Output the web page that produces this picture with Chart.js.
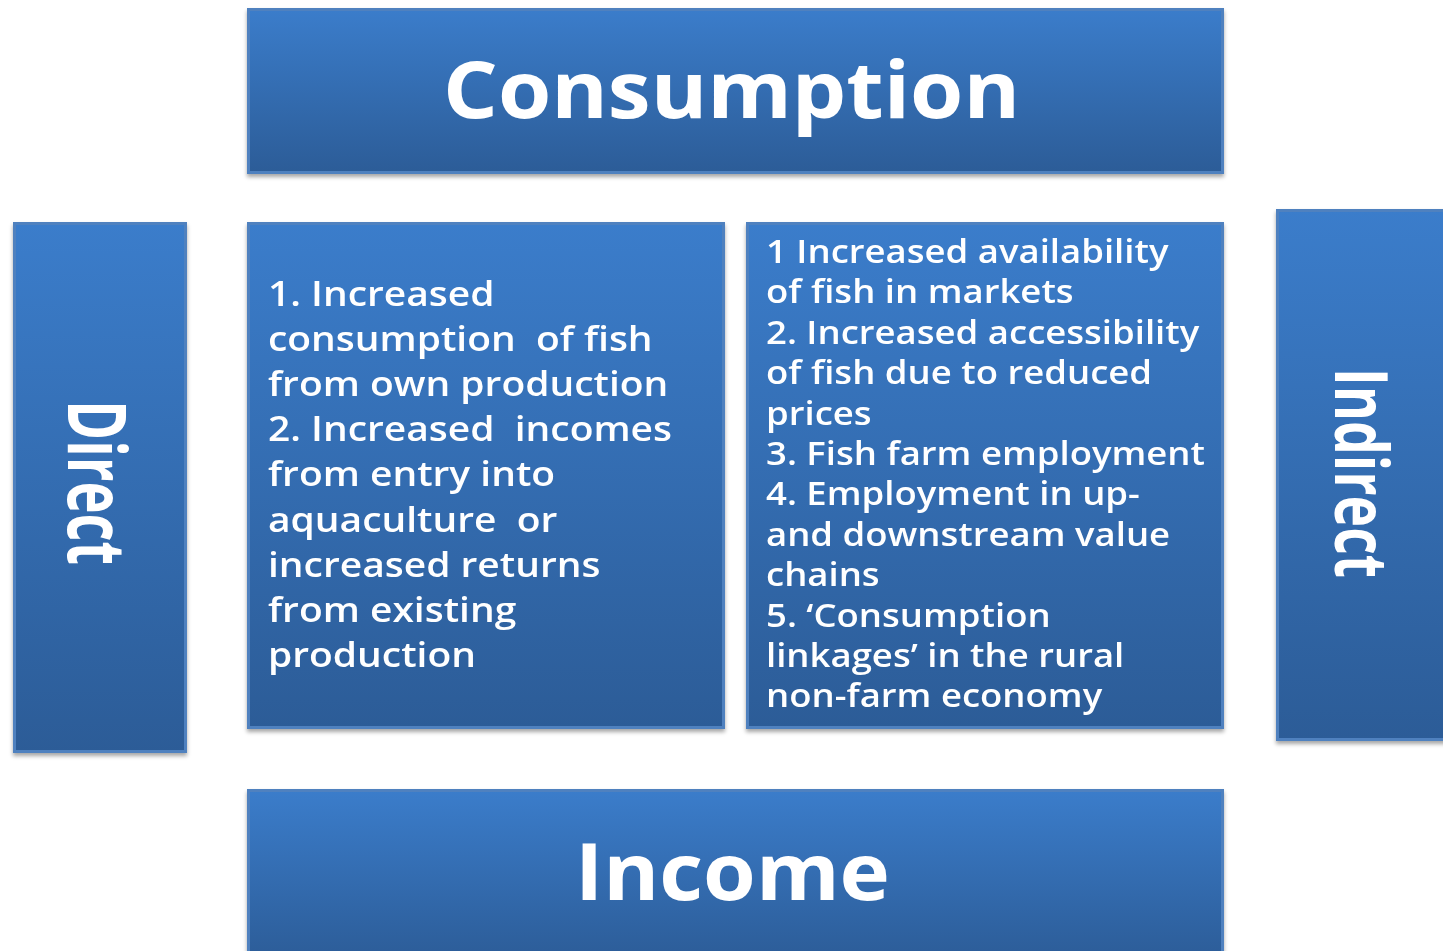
<!DOCTYPE html>
<html>
<head>
<meta charset="utf-8">
<script src="https://cdn.jsdelivr.net/npm/chart.js@4/dist/chart.umd.min.js"></script>
<style>
  html, body { margin: 0; padding: 0; background: #ffffff; }
  #wrap { width: 1443px; height: 951px; }
</style>
</head>
<body>
<div id="wrap"><canvas id="diagramChart" width="1443" height="951"></canvas></div>
<script>
// text content of the diagram
var titles = ['Consumption', 'Direct', 'Indirect', 'Income'];
var directItems = [
    '1. Increased',
    'consumption  of fish',
    'from own production',
    '2. Increased  incomes',
    'from entry into',
    'aquaculture  or',
    'increased returns',
    'from existing',
    'production'
];
var indirectItems = [
    '1 Increased availability',
    'of fish in markets',
    '2. Increased accessibility',
    'of fish due to reduced',
    'prices',
    '3. Fish farm employment',
    '4. Employment in up-',
    'and downstream value',
    'chains',
    '5. \u2018Consumption',
    'linkages\u2019 in the rural',
    'non-farm economy'
];

// box layout in page units: [left, top, right, bottom]
var boxes = [
    [247, 8, 1224, 174],
    [13, 222, 187, 753],
    [247, 222, 725, 729],
    [746, 222, 1224, 729],
    [1276, 209, 1452, 741],
    [247, 789, 1224, 962]
];

function fitText(ctx, text, x, y, len, capH, angle) {
    var fs = capH / 0.714;
    ctx.font = 'bold ' + fs + 'px "Open Sans"';
    var w = ctx.measureText(text).width;
    ctx.save();
    ctx.translate(x, y);
    ctx.rotate(angle);
    ctx.scale(len / w, 1);
    ctx.fillText(text, 0, 0);
    ctx.restore();
}

function textBlock(ctx, lines, sx, sy, x, y0, step, widest, capH) {
    var fs = capH / 0.714;
    ctx.font = '600 ' + fs + 'px "Open Sans"';
    var maxW = 0;
    lines.forEach(function (l) { maxW = Math.max(maxW, ctx.measureText(l).width); });
    var k = widest / maxW;
    lines.forEach(function (l, i) {
        ctx.save();
        ctx.translate(sx(x), sy(y0 + i * step));
        ctx.scale(k, 1);
        ctx.fillText(l, 0, 0);
        ctx.restore();
    });
}

var diagramPlugin = {
    id: 'diagram',
    afterDraw: function (chart) {
        var ctx = chart.ctx;
        var sx = function (v) { return chart.scales.x.getPixelForValue(v); };
        var sy = function (v) { return chart.scales.y.getPixelForValue(v); };
        ctx.save();
        boxes.forEach(function (b) {
            var x0 = sx(b[0]), y0 = sy(b[1]), x1 = sx(b[2]), y1 = sy(b[3]);
            var g = ctx.createLinearGradient(0, y0, 0, y1);
            g.addColorStop(0, '#3b7dcb');
            g.addColorStop(1, '#2c5c97');
            ctx.save();
            ctx.shadowColor = 'rgba(0,0,0,0.35)';
            ctx.shadowBlur = 4;
            ctx.shadowOffsetY = 3;
            ctx.fillStyle = g;
            ctx.fillRect(x0, y0, x1 - x0, y1 - y0);
            ctx.restore();
            ctx.strokeStyle = '#4f81bf';
            ctx.lineWidth = 3;
            ctx.strokeRect(x0 + 1.5, y0 + 1.5, x1 - x0 - 3, y1 - y0 - 3);
        });

        ctx.fillStyle = '#ffffff';
        ctx.textBaseline = 'alphabetic';
        ctx.textAlign = 'left';
        fitText(ctx, titles[0], sx(443), sy(118), 577, 56, 0);
        fitText(ctx, titles[1], sx(68), sy(400), 165, 57, Math.PI / 2);
        fitText(ctx, titles[2], sx(1335), sy(368), 210, 53, Math.PI / 2);
        fitText(ctx, titles[3], sx(575), sy(900), 315, 56, 0);

        textBlock(ctx, directItems, sx, sy, 268, 306, 45.1, 404, 24);
        textBlock(ctx, indirectItems, sx, sy, 766, 263, 40.4, 439, 23);
        ctx.restore();
    }
};

var ctx = document.getElementById('diagramChart').getContext('2d');
var diagramChart = new Chart(ctx, {
    type: 'scatter',
    data: { datasets: [{ data: [], pointRadius: 0 }] },
    options: {
        responsive: false,
        animation: false,
        layout: { padding: 0 },
        plugins: { legend: { display: false }, tooltip: { enabled: false } },
        scales: {
            x: { type: 'linear', min: 0, max: 1443, display: false },
            y: { type: 'linear', min: 0, max: 951, reverse: true, display: false }
        }
    },
    plugins: [diagramPlugin]
});
</script>
</body>
</html>
